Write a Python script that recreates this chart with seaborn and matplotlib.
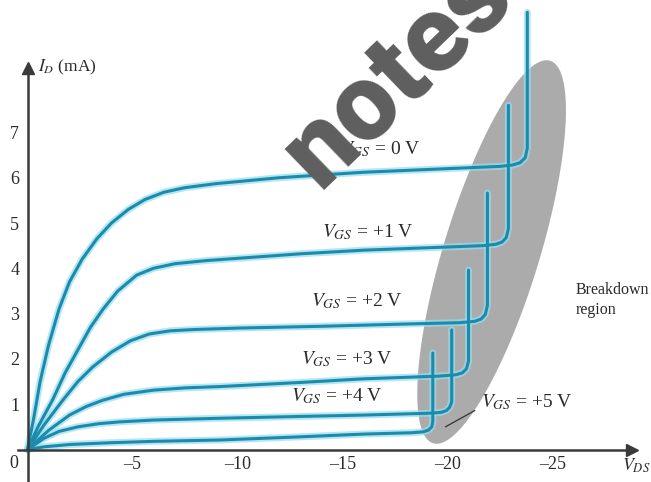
import numpy as np
import pandas as pd
import matplotlib
matplotlib.use("Agg")
import matplotlib.pyplot as plt
import seaborn as sns

# ===============================
# Data (V_DS in V, I_D in mA)
# ===============================

vgs_names = ["0", "+1", "+2", "+3", "+4", "+5"]

vgs0_v = [0, -0.3, -0.6, -1.0, -1.5, -2.0, -2.6, -3.3, -4.0, -4.8, -5.6, -6.5, -7.5, -9.0,
          -12, -16, -20, -22.5, -23.1, -23.45, -23.7, -23.8, -23.8]
vgs0_i = [0, 0.7, 1.5, 2.3, 3.1, 3.7, 4.2, 4.65, 5.0, 5.3, 5.52, 5.68, 5.78, 5.87,
          6.0, 6.12, 6.2, 6.25, 6.28, 6.33, 6.44, 6.65, 9.65]

vgs1_v = [0, -0.5, -1.2, -1.8, -2.4, -3.0, -3.6, -4.3, -5.2, -6.0, -7.0, -8.5, -10,
          -13, -16, -20, -21.7, -22.3, -22.6, -22.8, -22.9, -22.9]
vgs1_i = [0, 0.5, 1.1, 1.7, 2.2, 2.7, 3.1, 3.5, 3.85, 4.0, 4.1, 4.17, 4.22,
          4.32, 4.4, 4.47, 4.5, 4.53, 4.58, 4.68, 4.88, 7.6]

vgs2_v = [0, -0.8, -1.7, -2.4, -3.1, -4.0, -4.9, -5.8, -6.8, -8.0, -10,
          -14, -18, -20.6, -21.3, -21.6, -21.8, -21.9, -21.9]
vgs2_i = [0, 0.55, 1.1, 1.5, 1.82, 2.15, 2.4, 2.55, 2.62, 2.65, 2.68,
          2.72, 2.77, 2.8, 2.83, 2.88, 2.98, 3.18, 5.66]

vgs3_v = [0, -1.0, -2.0, -2.8, -3.6, -4.6, -6.0, -7.5, -9.2,
          -13, -16, -19.6, -20.4, -20.7, -20.9, -21.0, -21.0]
vgs3_i = [0, 0.42, 0.76, 0.95, 1.09, 1.22, 1.31, 1.36, 1.39,
          1.48, 1.56, 1.62, 1.65, 1.69, 1.78, 1.95, 3.96]

vgs4_v = [0, -0.8, -1.5, -2.4, -3.4, -4.4, -6.0, -9.2, -13, -16,
          -19.1, -19.7, -19.95, -20.1, -20.2, -20.2]
vgs4_i = [0, 0.25, 0.4, 0.5, 0.57, 0.61, 0.65, 0.69, 0.73, 0.76,
          0.8, 0.82, 0.86, 0.93, 1.05, 2.64]

vgs5_v = [0, -0.8, -2.0, -4.0, -6.0, -9.2, -13, -16, -18.3, -18.85, -19.1, -19.25, -19.3, -19.3]
vgs5_i = [0, 0.06, 0.11, 0.15, 0.18, 0.21, 0.28, 0.34, 0.37, 0.39, 0.43, 0.5, 0.62, 2.13]

xtick_vals = [-5, -10, -15, -20, -25]
xtick_labels = ["\u20135", "\u201310", "\u201315", "\u201320", "\u201325"]
ytick_vals = [1, 2, 3, 4, 5, 6, 7]

curve_labels = ["$V_{GS}$ = 0 V", "$V_{GS}$ = +1 V", "$V_{GS}$ = +2 V",
                "$V_{GS}$ = +3 V", "$V_{GS}$ = +4 V", "$V_{GS}$ = +5 V"]

curves_v = [vgs0_v, vgs1_v, vgs2_v, vgs3_v, vgs4_v, vgs5_v]
curves_i = [vgs0_i, vgs1_i, vgs2_i, vgs3_i, vgs4_i, vgs5_i]

frames = []
for name, v, i in zip(vgs_names, curves_v, curves_i):
    frames.append(pd.DataFrame({"V": v, "I": i, "VGS": name}))
df = pd.concat(frames, ignore_index=True)

# ===============================
# Figure setup
# ===============================

sns.set_theme(style="white")
plt.rcParams["font.family"] = ["Liberation Serif", "DejaVu Serif"]
plt.rcParams["mathtext.fontset"] = "stix"

W, H = 651, 482
px_v, px_ma = 21.0, 45.3      # pixels per volt / per mA
x0_px, y0_px = 27.5, 449.5    # where the origin sits

fig = plt.figure(figsize=(W / 100, H / 100), dpi=100)
ax = fig.add_axes([0, 0, 1, 1])
ax.set_xlim(x0_px / px_v, -(W - x0_px) / px_v)
ax.set_ylim(-(H - y0_px) / px_ma, y0_px / px_ma)

axc = "#3a3a3a"
txtc = "#2a2a2a"

# breakdown region (grey tilted ellipse)
t = np.linspace(0, 2 * np.pi, 300)
th = np.deg2rad(17)
a_px, b_px = 200, 48
dx = a_px * np.cos(t) * np.sin(th) + b_px * np.sin(t) * np.cos(th)
dy = a_px * np.cos(t) * np.cos(th) - b_px * np.sin(t) * np.sin(th)
ax.fill(-22.1 - dx / px_v, 4.36 + dy / px_ma, color="#ababab", lw=0, zorder=1)

# curves: soft cyan glow + teal core
sns.lineplot(data=df, x="V", y="I", units="VGS", estimator=None, sort=False,
             color="#93def3", lw=5, alpha=0.7, ax=ax, zorder=2)
sns.lineplot(data=df, x="V", y="I", units="VGS", estimator=None, sort=False,
             color="#1e8aa9", lw=2.2, ax=ax, zorder=3)
ax.set_xlabel("")
ax.set_ylabel("")

# axes through the origin with arrows
for s in ["top", "right"]:
    ax.spines[s].set_visible(False)
ax.spines["left"].set_position(("data", 0))
ax.spines["bottom"].set_position(("data", 0))
ax.spines["left"].set_bounds(-0.8, 8.4)
ax.spines["bottom"].set_bounds(0.45, -28.7)
for s in ["left", "bottom"]:
    ax.spines[s].set_color(axc)
    ax.spines[s].set_linewidth(1.8)
    ax.spines[s].set_zorder(4)
ax.plot(0, 8.42, marker="^", ms=8, color=axc, clip_on=False, zorder=5)
ax.plot(-28.8, 0, marker=">", ms=8, color=axc, clip_on=False, zorder=5)

ax.set_xticks(xtick_vals)
ax.set_xticklabels(xtick_labels)
ax.set_yticks(ytick_vals)
ax.tick_params(direction="in", length=11, width=1.3, color=axc,
               labelsize=13, labelcolor=txtc)
ax.tick_params(axis="x", pad=5)
ax.tick_params(axis="y", pad=6)
ax.grid(False)

ax.text(0.64, -0.32, "0", fontsize=13, color=txtc, ha="center", va="center")
ax.text(-0.5, 8.43, "$I_D$ (mA)", fontsize=12.5, color=txtc, ha="left", va="center")
ax.text(-28.3, -0.37, "$V_{DS}$", fontsize=13, color=txtc, ha="left", va="center")

# curve labels
label_pos = [(-16.8, 6.63), (-16.2, 4.8), (-15.7, 3.28),
             (-15.2, 2.0), (-14.75, 1.18), (-23.8, 1.05)]
for txt, (x, y) in zip(curve_labels, label_pos):
    ax.text(x, y, txt, fontsize=14, color=txtc, ha="center", va="center", zorder=6)
ax.plot([-21.3, -19.9], [0.86, 0.5], color="#333333", lw=0.9, zorder=6)

ax.text(-26.1, 3.7, "Breakdown\nregion", fontsize=11.5, color=txtc,
        ha="left", va="top", linespacing=1.35)

# watermark
ax.text(-17.6, 8.3, "notes", fontsize=78, fontweight="black", color="#5e5e5e",
        family=["Roboto", "DejaVu Sans"], rotation=44, ha="center", va="center",
        rotation_mode="anchor", zorder=7)

fig.savefig("out.png", dpi=100, facecolor="white")
